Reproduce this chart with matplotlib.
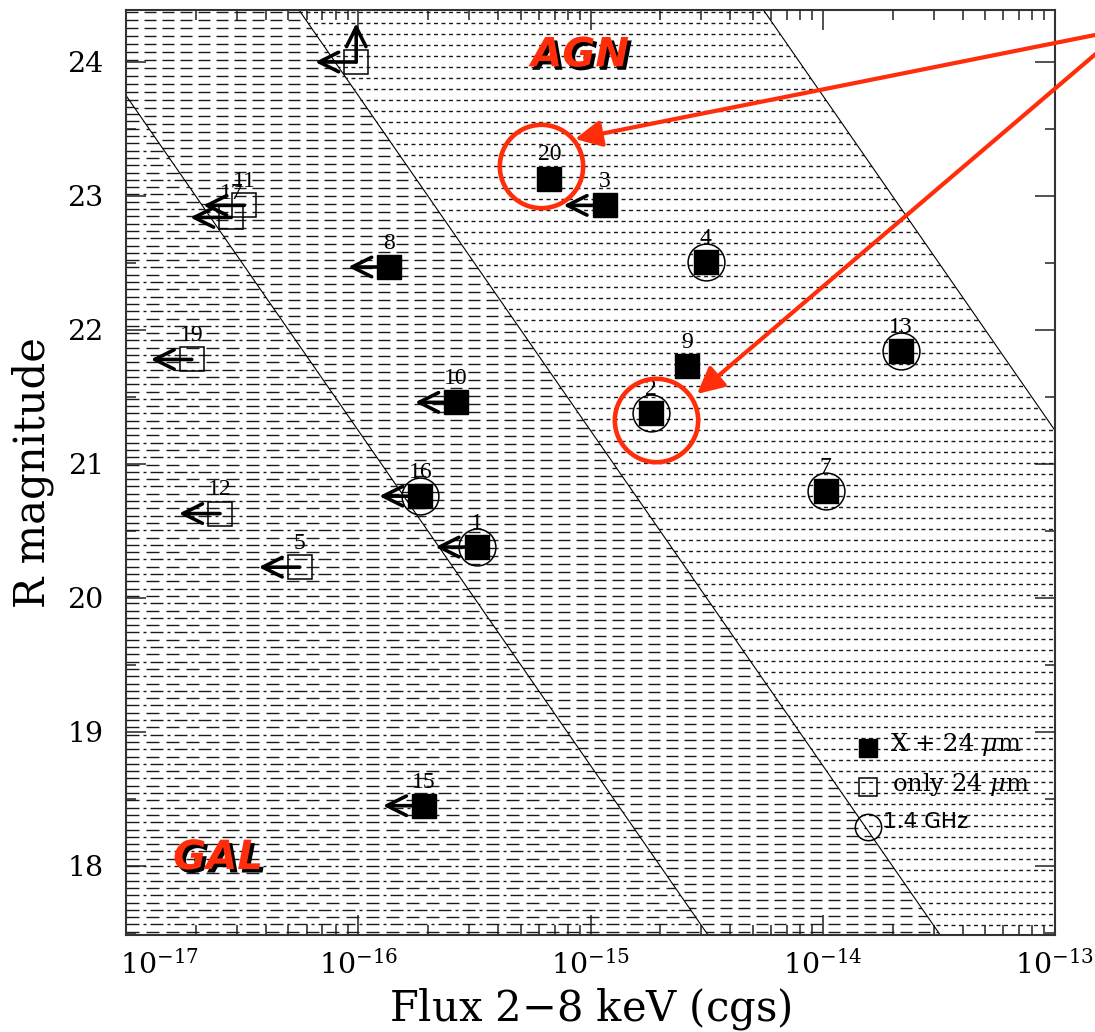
import numpy as np
import matplotlib
matplotlib.use("Agg")
import matplotlib.pyplot as plt
from matplotlib.patches import Polygon
import matplotlib.patheffects as pe
import matplotlib.transforms as mtransforms
from matplotlib.ticker import LogLocator, MultipleLocator, NullFormatter, FixedLocator

# ---------------- data ----------------
# X-ray + 24 micron sources (filled squares)
lab_x24 = ['20', '3', '4', '8', '9', '13', '2', '10', '7', '16', '1', '15']
flux_x24 = [6.65e-16, 1.15e-15, 3.13e-15, 1.36e-16, 2.6e-15, 2.17e-14,
            1.82e-15, 2.64e-16, 1.03e-14, 1.85e-16, 3.23e-16, 1.92e-16]
rmag_x24 = [23.13, 22.93, 22.51, 22.47, 21.73, 21.84,
            21.38, 21.46, 20.80, 20.76, 20.38, 18.45]
ulim_x24 = [False, True, False, True, False, False,
            False, True, False, True, True, True]
radio_x24 = [False, False, True, False, False, True,
             True, False, True, True, True, False]

# only 24 micron sources (open squares, X-ray flux upper limits)
lab_24 = ['', '11', '17', '19', '12', '5']
flux_24 = [9.8e-17, 3.23e-17, 2.84e-17, 1.92e-17, 2.54e-17, 5.6e-17]
rmag_24 = [24.0, 22.93, 22.84, 21.78, 20.63, 20.23]
rlim_24 = [True, False, False, False, False, False]

# constant log(fX/fR) lines
xo_values = [-2, -1, 1]
highlight = ['20', '2']
x_ticks = [1e-17, 1e-16, 1e-15, 1e-14, 1e-13]

# ---------------- style ----------------
plt.rcParams['lines.scale_dashes'] = False
plt.rcParams['font.family'] = ['DejaVu Serif']
plt.rcParams['mathtext.fontset'] = 'dejavuserif'

W, H = 1095, 1032
fig = plt.figure(figsize=(W / 100, H / 100), dpi=100)
ax = fig.add_axes([126 / W, 1 - 935 / H, 929 / W, 925 / H])
ax.set_xscale('log')
XLIM = (1e-17, 1e-13)
YLIM = (17.485, 24.388)
ax.set_xlim(*XLIM)
ax.set_ylim(*YLIM)

PX = 0.72  # points per pixel


def lf(xo, r):
    return xo - 5.5 - r / 2.5


RT, RB = 26.0, 16.0
region_defs = [
    (None, xo_values[0], [(14.6, 0.0, (13, 7)), (14.6, 7.3, (13, 4, 3, 4))]),
    (xo_values[0], xo_values[1], [(8.0, 0.0, (12, 6))]),
    (xo_values[1], xo_values[2], [(11.0, 0.0, (4, 3.5))]),
]
mag_per_px = 1 / 134.0
for left, right, patterns in region_defs:
    if left is None:
        verts = [(-18, RT), (lf(right, RT), RT), (lf(right, RB), RB), (-18, RB)]
    else:
        verts = [(lf(left, RT), RT), (lf(right, RT), RT),
                 (lf(right, RB), RB), (lf(left, RB), RB)]
    verts = [(10 ** a, b) for a, b in verts]
    poly = Polygon(verts, closed=True, facecolor='none', edgecolor='none')
    ax.add_patch(poly)
    for sp, off, dash in patterns:
        ys = np.arange(YLIM[1] - (2 + off) * mag_per_px, YLIM[0], -sp * mag_per_px)
        lc = ax.hlines(ys, XLIM[0], XLIM[1], colors='#1a1a1a', lw=1.0,
                       linestyles=[(0, tuple(d * PX for d in dash))])
        lc.set_clip_path(poly)

for xo in xo_values:
    rr = np.array([RT, RB])
    ax.plot(10 ** lf(xo, rr), rr, color='k', lw=0.8)

# ---------------- points ----------------
ARROW_DEX = 0.177
ARROW_MAG = 0.29
aprops = dict(arrowstyle='->,head_length=1.4,head_width=0.7', lw=2.6,
              color='k', shrinkA=0, shrinkB=0)

for f, r, u in zip(flux_x24, rmag_x24, ulim_x24):
    if u:
        ax.annotate('', xy=(f * 10 ** -ARROW_DEX, r), xytext=(f, r),
                    arrowprops=aprops, zorder=4)
for f, r, u in zip(flux_24, rmag_24, rlim_24):
    ax.annotate('', xy=(f * 10 ** -ARROW_DEX, r), xytext=(f, r),
                arrowprops=aprops, zorder=4)
    if u:
        ax.annotate('', xy=(f, r + ARROW_MAG), xytext=(f, r),
                    arrowprops=aprops, zorder=4)

ax.plot(flux_x24, rmag_x24, 's', ms=17, color='k', zorder=5)
ax.plot(flux_24, rmag_24, 's', ms=17, mfc='none', mec='k', mew=1.1, zorder=5)
rf = [f for f, q in zip(flux_x24, radio_x24) if q]
rm = [r for r, q in zip(rmag_x24, radio_x24) if q]
ax.plot(rf, rm, 'o', ms=26.5, mfc='none', mec='k', mew=1.1, zorder=5)

for lab, f, r in list(zip(lab_x24, flux_x24, rmag_x24)) + list(zip(lab_24, flux_24, rmag_24)):
    if lab:
        ax.annotate(lab, xy=(f, r), xytext=(0, 17), textcoords='offset points',
                    ha='center', va='center', fontsize=17,
                    family='Liberation Serif', zorder=6)

# ---------------- legend ----------------
lx = 0.7987
ax.plot([lx], [0.2022], 's', ms=13, color='k', transform=ax.transAxes, zorder=6)
ax.plot([lx], [0.160], 's', ms=13, mfc='none', mec='k', mew=1.1,
        transform=ax.transAxes, zorder=6)
ax.plot([lx], [0.1168], 'o', ms=19, mfc='none', mec='k', mew=1.1,
        transform=ax.transAxes, zorder=6)
ax.text(0.822, 0.2055, r'X + 24 $\mu$m', transform=ax.transAxes, fontsize=17.5,
        va='center', ha='left', zorder=6)
ax.text(0.825, 0.163, r'only 24 $\mu$m', transform=ax.transAxes, fontsize=17.5,
        va='center', ha='left', zorder=6)
ax.text(0.815, 0.122, '1.4 GHz', transform=ax.transAxes, fontsize=15.5,
        family='DejaVu Sans', va='center', ha='left', zorder=6)

# ---------------- axes styling ----------------
ax.xaxis.set_major_locator(FixedLocator(x_ticks))
ax.xaxis.set_minor_locator(LogLocator(base=10, subs=np.arange(2, 10), numticks=20))
ax.xaxis.set_minor_formatter(NullFormatter())
ax.yaxis.set_major_locator(MultipleLocator(1))
ax.yaxis.set_minor_locator(MultipleLocator(0.5))
ax.tick_params(which='both', direction='in', top=True, right=True, color='#222')
ax.tick_params(which='major', length=14.4, width=1.1, labelsize=20.5)
ax.tick_params(which='minor', length=7.2, width=1.1)
ax.tick_params(axis='x', which='major', pad=11)
ax.tick_params(axis='y', which='major', pad=16)
for s in ax.spines.values():
    s.set_linewidth(1.5)
    s.set_color('#333')
ax.set_xlabel(r'Flux 2$-$8 keV (cgs)', fontsize=30, labelpad=4)
ax.set_ylabel('R magnitude', fontsize=30, labelpad=10)

# first x tick label kept inside the figure (left aligned at the axis)
fig.canvas.draw()
first_tick = ax.xaxis.get_major_ticks()[0]
first_tick.label1.set_horizontalalignment('left')
first_tick.label1.set_x(first_tick.label1.get_position()[0])
first_tick.label1.set_transform(first_tick.label1.get_transform() +
                                mtransforms.ScaledTranslation(-6 / 100, 0,
                                                              fig.dpi_scale_trans))

# ---------------- red overlays ----------------
RED = '#ff2d0a'
lab_pos = {l: (f, r) for l, f, r in zip(lab_x24, flux_x24, rmag_x24)}
offsets = {'20': (-6, 9), '2': (4, -5)}
for h in highlight:
    f, r = lab_pos[h]
    dx, dy = offsets[h]
    tr = mtransforms.offset_copy(ax.transData, fig=fig, x=dx, y=dy, units='points')
    ax.plot([f], [r], 'o', ms=60, mfc='none', mec=RED, mew=3.3, transform=tr,
            zorder=7, clip_on=False)

rprops = dict(arrowstyle='-|>', lw=3, color=RED, mutation_scale=40,
              shrinkA=0, shrinkB=0)
ax.annotate('', xy=(575, H - 139), xycoords='figure pixels',
            xytext=(1105, H - 33), textcoords='figure pixels',
            arrowprops=rprops, annotation_clip=False, zorder=8)
ax.annotate('', xy=(697, H - 394), xycoords='figure pixels',
            xytext=(1105, H - 46), textcoords='figure pixels',
            arrowprops=rprops, annotation_clip=False, zorder=8)

shadow = [pe.withSimplePatchShadow(offset=(2.5, -2.5), shadow_rgbFace='k', alpha=1.0)]
ax.text(0.4887, 0.951, 'AGN', transform=ax.transAxes, color=RED, fontsize=29,
        fontweight='heavy', style='italic', family='DejaVu Sans', ha='center',
        va='center', path_effects=shadow, zorder=8)
ax.text(0.099, 0.0832, 'GAL', transform=ax.transAxes, color=RED, fontsize=29,
        fontweight='heavy', style='italic', family='DejaVu Sans', ha='center',
        va='center', path_effects=shadow, zorder=8)

fig.savefig('out.png', dpi=100)
